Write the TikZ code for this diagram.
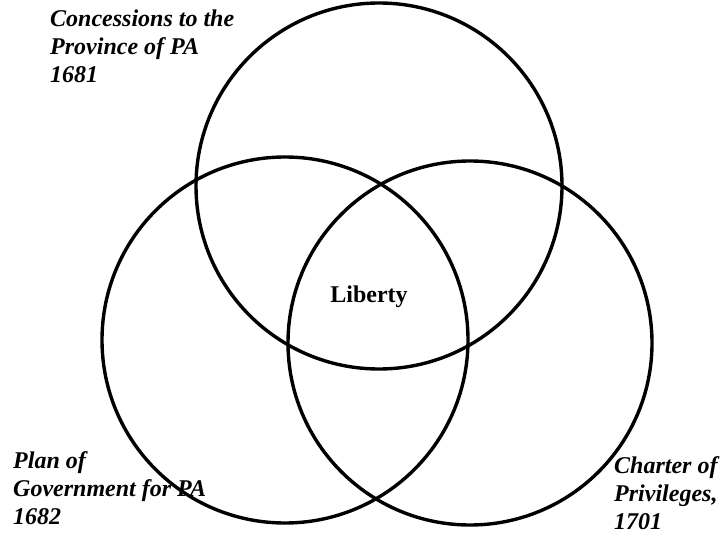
\documentclass[tikz,border=0pt]{standalone}
\usepackage{fontspec}
\setmainfont{Liberation Serif}
\usepackage{tikz}
\usetikzlibrary{positioning}

\begin{document}
\begin{tikzpicture}[
  x=1pt, y=-1pt,
  set/.style={draw=black, line width=3.4pt},
  tag/.style={
    font=\fontsize{24}{28}\selectfont\bfseries\itshape,
    align=left, inner sep=0pt, anchor=north west,
  },
]
  \useasboundingbox (0,0) rectangle (720,540);

  % centres of the three sets
  \coordinate (conc) at (379,186);
  \coordinate (plan) at (285,340);
  \coordinate (char) at (470,343);

  \draw[set] (conc) circle[radius=183];
  \draw[set] (plan) circle[radius=183];
  \draw[set] (char) circle[radius=182];

  \node[tag] (concl) at (50,10)  {Concessions to the\\Province of PA\\1681};
  \node[tag] (planl) at (13,451) {Plan of\\Government for PA\\1682};
  \node[tag] (charl) at (614,456) {Charter of\\Privileges,\\1701};

  \node[font=\fontsize{24}{28}\selectfont\bfseries, inner sep=0pt, anchor=base]
    (lib) at (369,302) {Liberty};
\end{tikzpicture}
\end{document}
